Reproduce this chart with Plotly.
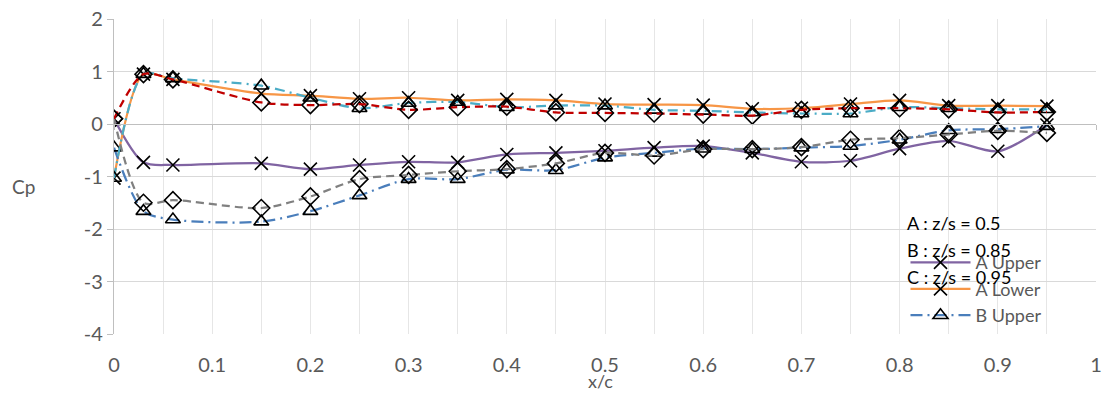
import plotly.graph_objects as go

x_c = [0, 0.03, 0.06, 0.15, 0.2, 0.25, 0.3, 0.35, 0.4, 0.45, 0.5,
       0.55, 0.6, 0.65, 0.7, 0.75, 0.8, 0.85, 0.9, 0.95]

a_upper = [0.1, -0.73, -0.78, -0.75, -0.86, -0.78, -0.72, -0.73, -0.58, -0.55, -0.51,
           -0.45, -0.42, -0.55, -0.72, -0.7, -0.47, -0.32, -0.52, -0.02]
a_lower = [-1.03, 0.95, 0.85, 0.58, 0.54, 0.48, 0.5, 0.45, 0.47, 0.45, 0.38,
           0.37, 0.36, 0.29, 0.3, 0.38, 0.45, 0.35, 0.35, 0.34]
b_upper = [-0.45, -1.66, -1.82, -1.86, -1.66, -1.36, -1.05, -1.05, -0.87, -0.88, -0.64,
           -0.55, -0.47, -0.48, -0.45, -0.42, -0.3, -0.12, -0.1, -0.04]
b_lower = [-1.03, 0.95, 0.87, 0.73, 0.5, 0.3, 0.4, 0.42, 0.32, 0.35, 0.35,
           0.27, 0.25, 0.22, 0.2, 0.2, 0.32, 0.3, 0.28, 0.28]
c_upper = [0.1, -1.5, -1.45, -1.6, -1.38, -1.05, -0.97, -0.9, -0.86, -0.75, -0.55,
           -0.6, -0.48, -0.48, -0.44, -0.3, -0.27, -0.2, -0.13, -0.17]
c_lower = [0.1, 0.95, 0.85, 0.41, 0.36, 0.38, 0.27, 0.32, 0.33, 0.22, 0.21,
           0.2, 0.18, 0.16, 0.27, 0.3, 0.3, 0.28, 0.22, 0.23]

series_names = ["A Upper", "A Lower", "B Upper", "B Lower", "C Upper", "C Lower"]
series_values = [a_upper, a_lower, b_upper, b_lower, c_upper, c_lower]
series_colors = ["#8064A2", "#F79646", "#4A7EBB", "#4BACC6", "#808080", "#C00000"]
series_dash = ["solid", "solid", "12px,5px,2px,5px", "10px,5px,2px,5px", "8px,5px", "8px,5px"]
series_symbol = ["x-thin-open", "x-thin-open", "triangle-up-open", "triangle-up-open",
                 "diamond-open", "diamond-open"]
legend_visible = [True, True, True, False, False, False]

annot_texts = ["A : z/s = 0.5", "B : z/s = 0.85", "C : z/s = 0.95"]

y_ticks = [-4, -3, -2, -1, 0, 1, 2]
y_tick_text = ["-4", "-3", "-2", "-1", "0", "1", "2"]
x_ticks = [0, 0.1, 0.2, 0.3, 0.4, 0.5, 0.6, 0.7, 0.8, 0.9, 1]
x_tick_text = ["0", "0.1", "0.2", "0.3", "0.4", "0.5", "0.6", "0.7", "0.8", "0.9", "1"]

FONT = "Lato, Carlito, Calibri, sans-serif"
GREY = "#595959"

fig = go.Figure()
for name, vals, col, dash, sym, show in zip(series_names, series_values, series_colors,
                                            series_dash, series_symbol, legend_visible):
    fig.add_trace(go.Scatter(
        x=x_c, y=vals, name=name, mode="lines+markers",
        line=dict(color=col, width=2.25, dash=dash, shape="spline", smoothing=0.8),
        marker=dict(symbol=sym, size=13, color="black",
                    line=dict(width=1.6, color="black")),
        showlegend=show, legendgroup=name,
    ))

# secondary x-axis line crossing at Cp = 0
fig.add_trace(go.Scatter(x=[0, 1], y=[0, 0], xaxis="x2", mode="lines",
                         line=dict(width=0), showlegend=False, hoverinfo="skip"))

ann_y = [0.352, 0.267, 0.181]
for t, yy in zip(annot_texts, ann_y):
    fig.add_annotation(text=t, xref="paper", yref="paper", x=0.805, y=yy,
                       xanchor="left", yanchor="middle", showarrow=False,
                       font=dict(family=FONT, size=18, color="black"))

fig.update_layout(
    width=1109, height=393,
    margin=dict(l=114, r=13, t=19, b=59, autoexpand=False),
    paper_bgcolor="white", plot_bgcolor="white",
    font=dict(family=FONT, size=18, color=GREY),
    legend=dict(x=0.806, y=0.285, xanchor="left", yanchor="top",
                bgcolor="rgba(0,0,0,0)", font=dict(family=FONT, size=18, color=GREY),
                tracegroupgap=0, itemwidth=60),
    xaxis=dict(range=[0, 1], tickvals=x_ticks, ticktext=x_tick_text, automargin=False,
               showgrid=True, gridcolor="#E6E6E6", gridwidth=1,
               zeroline=False, showline=False, ticks="", ticklabelstandoff=17,
               minor=dict(dtick=0.05, tick0=0, showgrid=True, gridcolor="#E6E6E6", gridwidth=1),
               tickfont=dict(family=FONT, size=20, color=GREY)),
    xaxis2=dict(range=[0, 1], overlaying="x", anchor="free", position=2/3,
                side="bottom", showline=True, linecolor="#BFBFBF", linewidth=1.3,
                ticks="outside", ticklen=5, tickcolor="#BFBFBF", tickvals=x_ticks,
                showticklabels=False, showgrid=False, zeroline=False),
    yaxis=dict(range=[-4, 2], tickvals=y_ticks, ticktext=y_tick_text, automargin=False,
               showgrid=True, gridcolor="#D9D9D9", gridwidth=1.3,
               zeroline=False, showline=True, linecolor="#BFBFBF", linewidth=1.3,
               ticks="outside", ticklen=6, tickcolor="#BFBFBF",
               tickfont=dict(family=FONT, size=20, color=GREY)),
)
fig.add_annotation(text="Cp", xref="paper", yref="paper", x=-0.092, y=0.467,
                   xanchor="center", yanchor="middle", showarrow=False,
                   font=dict(family=FONT, size=19, color=GREY))
fig.add_annotation(text="x/c", xref="paper", yref="paper", x=0.495, y=-0.149,
                   xanchor="center", yanchor="middle", showarrow=False,
                   font=dict(family=FONT, size=18, color=GREY))

fig.write_html("out.html")
